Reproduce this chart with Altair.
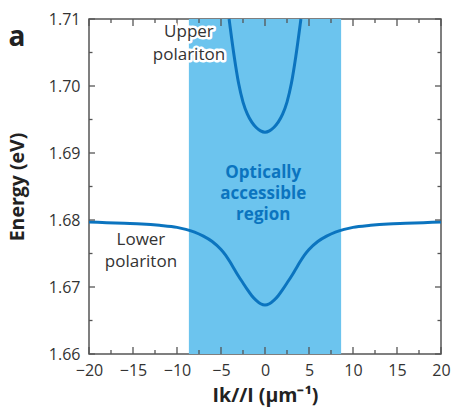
import altair as alt
import pandas as pd

# ---- data ----
k_lower = [-20, -18, -16, -14, -12, -10, -9, -8, -7, -6, -5, -4.5, -4, -3.5, -3, -2.5, -2, -1.5, -1, -0.5,
           0, 0.5, 1, 1.5, 2, 2.5, 3, 3.5, 4, 4.5, 5, 6, 7, 8, 9, 10, 12, 14, 16, 18, 20]
e_lower = [1.6797, 1.6796, 1.6795, 1.6794, 1.6792, 1.6789, 1.6786, 1.6782, 1.6776, 1.6768, 1.6756,
           1.6748, 1.6738, 1.6727, 1.6716, 1.6706, 1.6696, 1.6687, 1.6680, 1.6675,
           1.6673,
           1.6675, 1.6680, 1.6687, 1.6696, 1.6706, 1.6716, 1.6727, 1.6738, 1.6748, 1.6756,
           1.6768, 1.6776, 1.6782, 1.6786, 1.6789, 1.6792, 1.6794, 1.6795, 1.6796, 1.6797]

k_upper = [-4.08, -4, -3.5, -3, -2.5, -2, -1.5, -1, -0.5, 0, 0.5, 1, 1.5, 2, 2.5, 3, 3.5, 4, 4.08]
e_upper = [1.7100, 1.7092, 1.7044, 1.7004, 1.6976, 1.6958, 1.6946, 1.6938, 1.6933, 1.6931,
           1.6933, 1.6938, 1.6946, 1.6958, 1.6976, 1.7004, 1.7044, 1.7092, 1.7100]

region_k = [-8.65, 8.65]
region_e = [1.66, 1.71]

x_major = [-20, -15, -10, -5, 0, 5, 10, 15, 20]
x_minor = [-17.5, -12.5, -7.5, -2.5, 2.5, 7.5, 12.5, 17.5]
y_major = [1.66, 1.67, 1.68, 1.69, 1.70, 1.71]
y_minor = [1.665, 1.675, 1.685, 1.695, 1.705]

W, H = 352, 335
AX = "#555555"
BLUE_FILL = "#6cc4ee"
BLUE_LINE = "#0b74bf"
FONT = "Open Sans"

lower_df = pd.DataFrame({"k": k_lower, "E": e_lower})
upper_df = pd.DataFrame({"k": k_upper, "E": e_upper})
region_df = pd.DataFrame({"k1": [region_k[0]], "k2": [region_k[1]],
                          "e1": [region_e[0]], "e2": [region_e[1]]})

xs = alt.Scale(domain=[-20, 20], nice=False, zero=False)
ys = alt.Scale(domain=[1.66, 1.71], nice=False, zero=False)

AXX = alt.Axis(orient="bottom", values=x_major, format="d", ticks=False, domain=False,
               labelPadding=8, labelFlush=False, grid=False,
               title="Ik//I (μm⁻¹)", titlePadding=8)
AXY = alt.Axis(orient="left", values=y_major, format=".2f", ticks=False, domain=False,
               labelPadding=9, labelFlush=False, grid=False,
               title="Energy (eV)", titlePadding=21)

region = alt.Chart(region_df).mark_rect(color=BLUE_FILL).encode(
    x=alt.X("k1:Q", scale=xs, axis=AXX),
    x2="k2:Q",
    y=alt.Y("e1:Q", scale=ys, axis=AXY),
    y2="e2:Q",
)

lower = alt.Chart(lower_df).mark_line(color=BLUE_LINE, strokeWidth=3, interpolate="monotone").encode(
    x=alt.X("k:Q", scale=xs, axis=AXX),
    y=alt.Y("E:Q", scale=ys, axis=AXY),
)

upper = alt.Chart(upper_df).mark_line(color=BLUE_LINE, strokeWidth=3, interpolate="monotone").encode(
    x=alt.X("k:Q", scale=xs, axis=AXX),
    y=alt.Y("E:Q", scale=ys, axis=AXY),
)


# inward ticks on all four sides, placed through the scales
def xticks(values, length):
    df = pd.DataFrame({"v": values})
    base = alt.Chart(df).mark_rule(color=AX, strokeWidth=1.3)
    bot = base.encode(x=alt.X("v:Q", scale=xs, axis=AXX), y=alt.value(H), y2=alt.value(H - length))
    top = base.encode(x=alt.X("v:Q", scale=xs, axis=AXX), y=alt.value(0), y2=alt.value(length))
    return [bot, top]


def yticks(values, length):
    df = pd.DataFrame({"v": values})
    base = alt.Chart(df).mark_rule(color=AX, strokeWidth=1.3)
    left = base.encode(y=alt.Y("v:Q", scale=ys, axis=AXY), x=alt.value(0), x2=alt.value(length))
    right = base.encode(y=alt.Y("v:Q", scale=ys, axis=AXY), x=alt.value(W), x2=alt.value(W - length))
    return [left, right]


ticks = xticks(x_major, 7) + xticks(x_minor, 4) + yticks(y_major, 6) + yticks(y_minor, 3.5)


def label(text, kx, ey, halo=False, **kw):
    style = dict(font=FONT, fontSize=17, color="#333333", lineHeight=22,
                 align="center", baseline="middle")
    style.update(kw)
    if halo:
        style.update(stroke="white", strokeWidth=5, strokeJoin="round", color="white")
    return alt.Chart().mark_text(**style).encode(
        x=alt.XDatum(kx, type="quantitative", scale=xs, axis=AXX),
        y=alt.YDatum(ey, type="quantitative", scale=ys, axis=AXY),
        text=alt.value(text))


up_halo = label(["Upper", "polariton"], -8.64, 1.7081, halo=True, lineHeight=23)
up_text = label(["Upper", "polariton"], -8.64, 1.7081, lineHeight=23)
low_text = label(["Lower", "polariton"], -14.1, 1.6770)
opt_text = label(["Optically", "accessible", "region"], -0.2, 1.6870,
                 color=BLUE_LINE, fontWeight="bold", fontSize=17, lineHeight=21)

panel = alt.Chart().mark_text(font=FONT, fontSize=28, fontWeight="bold", color="#222222",
                              align="center", baseline="middle").encode(
    x=alt.value(-72), y=alt.value(19), text=alt.value("a"))

chart = alt.layer(region, lower, upper, *ticks, up_halo, up_text, low_text, opt_text, panel).properties(
    width=W, height=H,
    padding={"left": 89, "top": 19, "right": 11, "bottom": 53},
    autosize=alt.AutoSizeParams(type="none"),
).configure_view(
    stroke=AX, strokeWidth=1.5
).configure_axis(
    labelFont=FONT, labelFontSize=16, labelColor="#333333",
    titleFont=FONT, titleFontSize=19.5, titleFontWeight="bold", titleColor="#222222",
    grid=False,
)

chart.save("out.html", embed_options={"renderer": "svg", "actions": False})
